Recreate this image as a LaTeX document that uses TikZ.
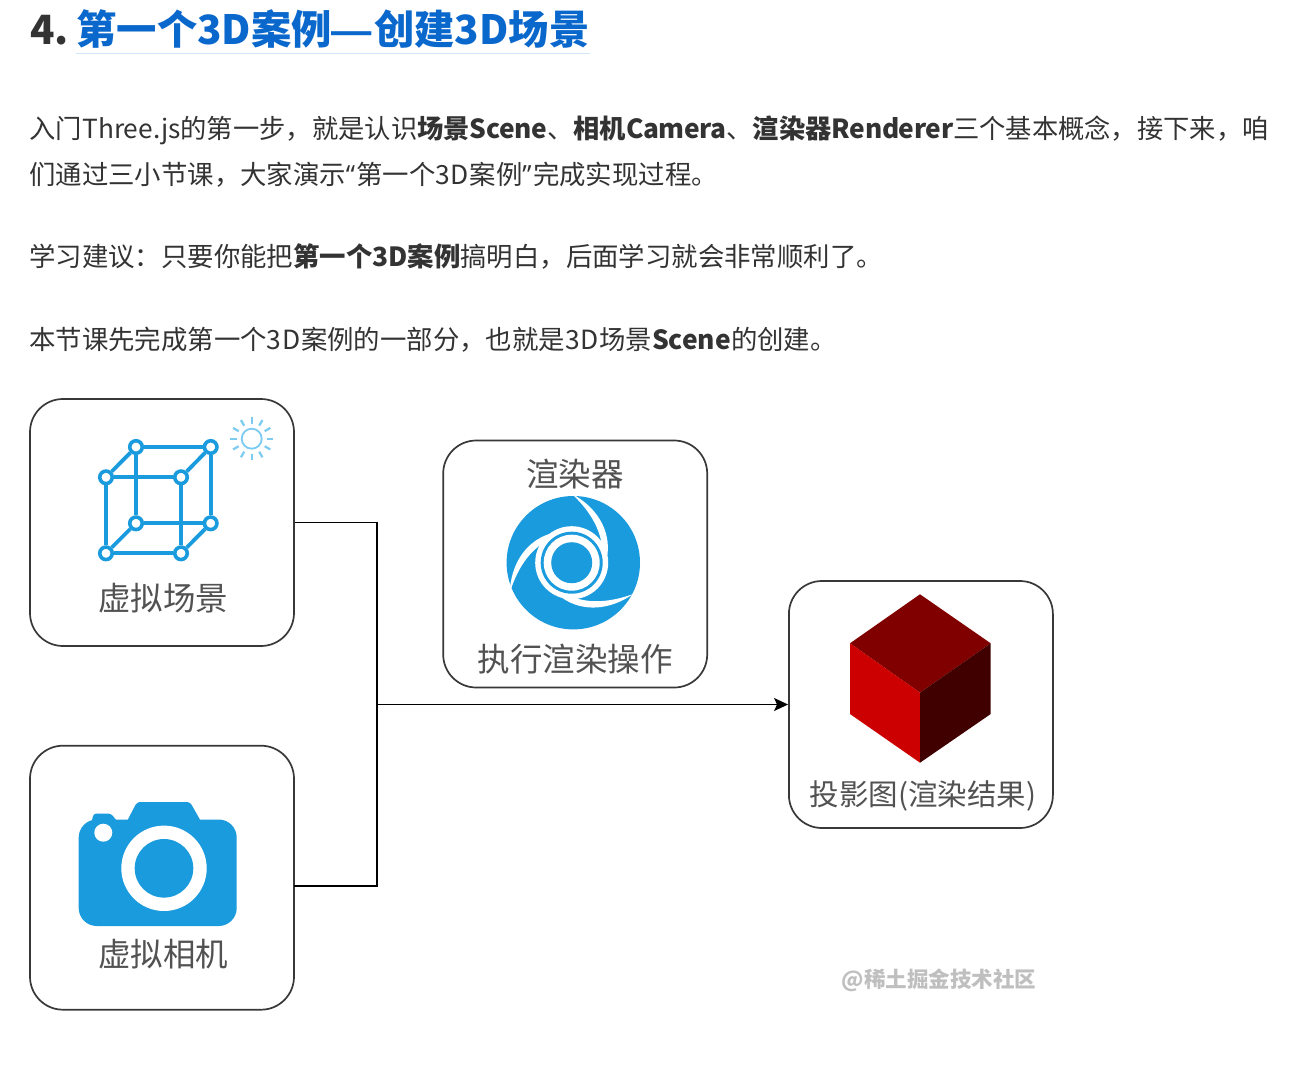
\documentclass[tikz,border=0pt]{standalone}
\usepackage{fontspec}
\setmainfont{Noto Sans CJK SC}
\newfontfamily\quotefont{Open Sans}
\newfontfamily\dashfont{Liberation Sans}
\usepackage{xcolor}
\usetikzlibrary{positioning, calc, arrows.meta}

\definecolor{iconblue}{HTML}{1A9BDE}
\definecolor{sunblue}{HTML}{7CCBF0}
\definecolor{titleblue}{HTML}{0A68CC}
\definecolor{ruleblue}{HTML}{CFE6FC}
\definecolor{inkgray}{HTML}{333333}

\newcommand{\tightbold}[1]{\textbf{\addfontfeature{LetterSpace=-1.2}#1}}
\newcommand{\threeD}{3\kern0.7pt D\kern0.7pt}

\begin{document}
\begin{tikzpicture}[
    x=1pt, y=-1pt,
    node distance=100pt and 149pt,
    box/.style={
        draw=black!78,
        rounded corners=33pt,
        fill=white,
        line width=1.7pt,
        minimum width=264pt,
        minimum height=247pt,
        inner sep=0pt
    },
    boxlabel/.style={font=\fontsize{32.5}{36}\selectfont, text=black!68, inner sep=0pt},
    textline/.style={anchor=base west, font=\fontsize{26.4}{30}\selectfont, text=inkgray, inner sep=0pt},
    titletext/.style={anchor=base west, font=\fontsize{40.3}{44}\selectfont\bfseries, inner sep=0pt},
    link/.style={draw=black, line width=1.6pt},
    vertex/.style={circle, draw=iconblue, fill=white, line width=3.6pt, minimum size=12.5pt, inner sep=0pt},
    wire/.style={draw=iconblue, line width=3.8pt}
]
\useasboundingbox[fill=white] (0,0) rectangle (1309,1073);

% Heading
\node[titletext, text=inkgray] (number) at (30,45) {4.};
\node[titletext, text=titleblue] (title) at (76.3,45) {第一个3D案例{\dashfont\bfseries —}\kern2pt 创建3D场景};
\draw[ruleblue, line width=1pt] ($(title.base west)+(0,9)$) -- ($(title.base east)+(0,9)$);

% Paragraphs
\node[textline, font=\fontsize{26.3}{30}\selectfont] (line1) at (29.5,138) {入门Three.js的第一步，就是认识\textbf{场景}\tightbold{Scene}、\textbf{相机}\tightbold{Camera}、\textbf{渲染器}\tightbold{Renderer}三个基本概念，接下来，咱};
\node[textline] (line2) at (29,184) {们通过三小节课，大家演示{\quotefont “}\kern1pt 第一个\threeD 案例{\quotefont ”}\kern1.5pt 完成实现过程。};
\node[textline] (line3) at (29,266) {学习建议：只要你能把\textbf{第一个3D案例}搞明白，后面学习就会非常顺利了。};
\node[textline] (line4) at (29,349) {本节课先完成第一个\threeD 案例的一部分，也就是\threeD 场景\textbf{Scene}的创建。};

% Boxes
\node[box] (scene) at (162,522.5) {};
\node[box, minimum height=264pt, below=98pt of scene] (camera) {};
\node[box, right=147.5pt of scene, yshift=-41.5pt] (renderer) {};
\node[box, right=80pt of renderer, yshift=-140.5pt] (result) {};

% Box labels
\node[boxlabel] (scenelabel) at (163,598) {虚拟场景};
\node[boxlabel] (cameralabel) at (163,954) {虚拟相机};
\node[boxlabel] (renderertop) at (575,474) {渲染器};
\node[boxlabel] (rendererlabel) at (575,659) {执行渲染操作};
\node[boxlabel, font=\fontsize{29.5}{34}\selectfont] (resultlabel) at (923,796) {投影图(渲染结果)};

% Connectors
\coordinate (junction) at (377,704.5);
\coordinate (cameraout) at (294,886);
\draw[link] (scene.east) -| (junction);
\draw[link] (cameraout) -| (junction);
\draw[link, -{Stealth[length=14pt, width=13pt, inset=3pt]}] (junction) -- (result.west);

% Wire cube
\node[vertex] (btl) at (136,447) {};
\node[vertex] (btr) at (210.7,447) {};
\node[vertex] (bbl) at (136,523.3) {};
\node[vertex] (bbr) at (210.7,523.3) {};
\node[vertex] (ftl) at (106,477.3) {};
\node[vertex] (ftr) at (181,477.3) {};
\node[vertex] (fbl) at (106,553.3) {};
\node[vertex] (fbr) at (181,553.3) {};
\foreach \a/\b in {btl/btr, btr/bbr, bbr/bbl, bbl/btl, ftl/ftr, ftr/fbr, fbr/fbl, fbl/ftl, btl/ftl, btr/ftr, bbl/fbl, bbr/fbr}
    \draw[wire] (\a) -- (\b);

% Sun
\draw[sunblue, line width=1.8pt] (251.7,438.7) circle (10);
\foreach \ang in {0,30,...,330}
    \draw[sunblue, line width=2.2pt] ($(251.7,438.7)+(\ang:15)$) -- ($(251.7,438.7)+(\ang:21.5)$);

% Camera icon
\fill[iconblue, rounded corners=18pt] (78.7,819.5) rectangle (236.7,926);
\fill[iconblue, rounded corners=3pt] (125,825) -- (137,802) -- (190,802) -- (203,825) -- cycle;
\fill[iconblue, rounded corners=3pt] (90,830) -- (93.5,813.5) -- (111,813.5) -- (120,825) -- cycle;
\fill[white] (164,868.3) circle (42.7);
\fill[iconblue] (164,868.3) circle (29.3);
\fill[white] (103.3,832.7) circle (9);

% Renderer icon
\begin{scope}[shift={(571.7,562.7)}]
    \fill[iconblue] (1.6,0) circle (66.7);
    \foreach \a in {-90,27,154}
        \fill[white] (\a:69) .. controls (\a+24:61) and (\a+50:51) .. (\a+78:36.5)
            -- (\a+78:31) .. controls (\a+48:43) and (\a+22:54) .. (\a:69) -- cycle;
    \fill[white] (0,0) circle (36.5);
    \fill[iconblue] (0,0) circle (31);
    \fill[white] (0,0) circle (28);
    \fill[iconblue] (0,0) circle (20.5);
\end{scope}

% Red cube
\fill[red!50!black] (920,594.3) -- (990.7,643.3) -- (920,692.7) -- (850,643.3) -- cycle;
\fill[red!80!black] (850,643.3) -- (920,692.7) -- (920,762.7) -- (850,714) -- cycle;
\fill[red!25!black] (990.7,643.3) -- (920,692.7) -- (920,762.7) -- (990.7,714) -- cycle;

% Watermark
\node[font=\fontsize{21.5}{26}\selectfont\bfseries, text=black!25, inner sep=0pt] (watermark) at (939,980) {@稀土掘金技术社区};

\end{tikzpicture}
\end{document}
